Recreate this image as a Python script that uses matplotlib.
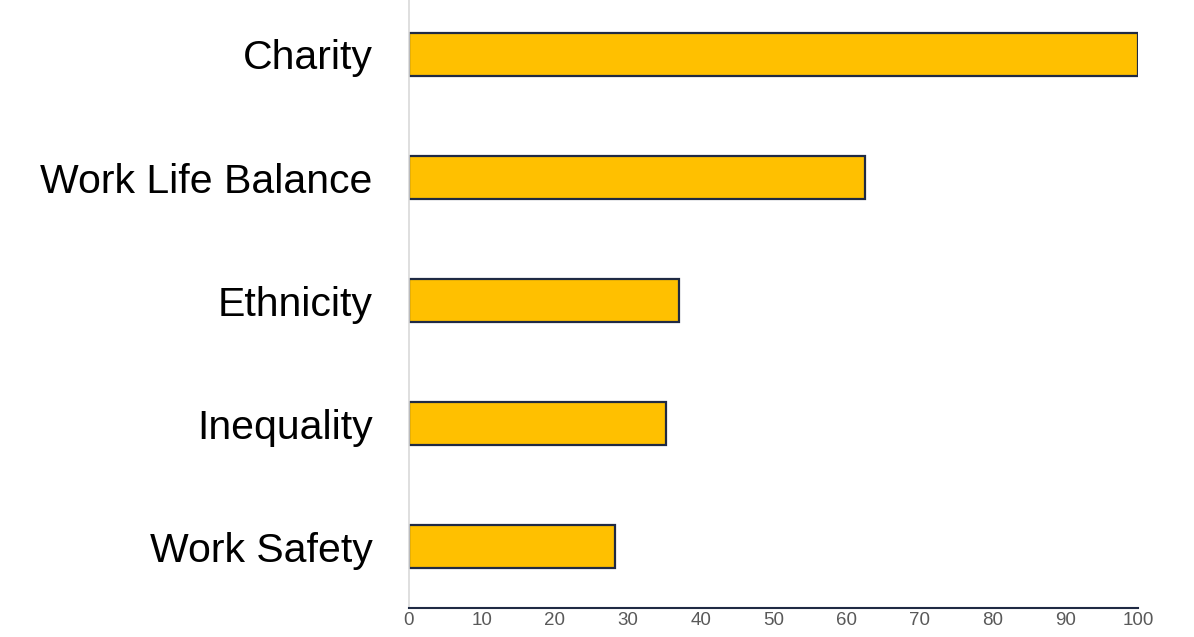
import matplotlib
matplotlib.use("Agg")
import matplotlib.pyplot as plt

categories = ["Work Safety", "Inequality", "Ethnicity", "Work Life Balance", "Charity"]
values = [28.3, 35.3, 37.0, 62.5, 100]
xticks = [0, 10, 20, 30, 40, 50, 60, 70, 80, 90, 100]

plt.rcParams["font.family"] = ["Liberation Sans", "DejaVu Sans"]

fig = plt.figure(figsize=(11.94, 6.37), dpi=100)
ax = fig.add_axes([0.3425, 0.0455, 0.6106, 0.9655])

ax.barh(categories, values, height=0.35, color="#FFC000",
        edgecolor="#1F2A44", linewidth=1.6)

ax.set_xlim(0, 100)
ax.set_ylim(-0.5, 4.5)
ax.set_xticks(xticks)
# labels sit just under the axis line so they stay inside the picture
ax.tick_params(axis="x", length=0, pad=3, labelsize=13.5, labelcolor="#595959")
ax.tick_params(axis="y", length=0, pad=26, labelsize=29.5, labelcolor="black")

for s in ["top", "right"]:
    ax.spines[s].set_visible(False)
ax.spines["left"].set_color("#D9D9D9")
ax.spines["left"].set_linewidth(1.2)
ax.spines["bottom"].set_color("#1F2A44")
ax.spines["bottom"].set_linewidth(1.5)

fig.savefig("out.png", dpi=100)
